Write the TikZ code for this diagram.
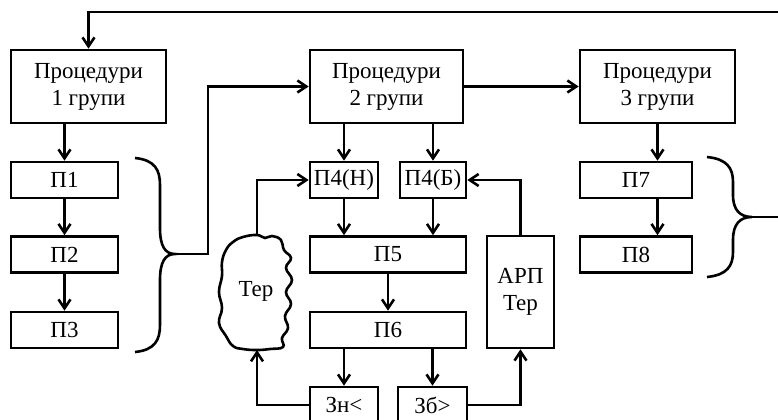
\documentclass[tikz,border=0pt]{standalone}
\usepackage{fontspec}
\setmainfont{Liberation Serif}
\usetikzlibrary{arrows.meta}
\begin{document}
\begin{tikzpicture}[x=0.5pt,y=-0.5pt,
  every node/.style={font=\fontsize{11.5}{13.5}\selectfont},
  box/.style={draw, line width=1.3pt, inner sep=0pt, align=center},
  ln/.style={line width=1.3pt},
  arr/.style={ln, -{Straight Barb[length=4.5pt,width=6pt]}}]
\useasboundingbox (0,0) rectangle (778,419);
% top-level groups
\node[box, minimum width=77.5pt, minimum height=36.5pt] (g1) at (88.5,86.5) {Процедури\\1 групи};
\node[box, minimum width=76.5pt, minimum height=36.5pt] (g2) at (386.5,86.5) {Процедури\\2 групи};
\node[box, minimum width=77.5pt, minimum height=36.5pt] (g3) at (657.5,86.5) {Процедури\\3 групи};
% group 1
\node[box, minimum width=53.5pt, minimum height=18pt] (p1) at (64.5,180) {П1};
\node[box, minimum width=53.5pt, minimum height=18pt] (p2) at (64.5,254.5) {П2};
\node[box, minimum width=53.5pt, minimum height=18pt] (p3) at (64.5,330) {П3};
% group 2
\node[box, minimum width=34pt, minimum height=18pt] (p4h) at (344,180) {П4(Н)};
\node[box, minimum width=33pt, minimum height=18pt] (p4b) at (433,180) {П4(Б)};
\node[box, minimum width=78pt, minimum height=18pt] (p5) at (388,254.5) {П5};
\node[box, minimum width=78pt, minimum height=18pt] (p6) at (388,330) {П6};
\node[box, minimum width=34pt, minimum height=18pt] (zn) at (344,405) {Зн<};
\node[box, minimum width=34.5pt, minimum height=18pt] (zb) at (432.5,405) {Зб>};
\node[box, minimum width=33.5pt, minimum height=56pt] (arp) at (520.5,292) {АРП\\Тер};
% group 3
\node[box, minimum width=56pt, minimum height=18pt] (p7) at (636,180) {П7};
\node[box, minimum width=56pt, minimum height=18pt] (p8) at (636,254.5) {П8};
% cloud
\node (ter) at (256,291) {Тер};
\coordinate (ct) at (257,235);
\coordinate (cb) at (257,350);
\draw[ln] plot[smooth cycle, tension=0.75] coordinates {
 (257,235) (265,238) (272,236) (281,240) (284,250) (291,258) (286,268) (292,280)
 (286,292) (291,304) (285,316) (288,328) (282,338) (283,347) (270,349)
 (257,350) (243,349) (233,346) (226,336) (219,323) (222,308) (219,292) (222,276)
 (222,262) (226,250) (233,242) (243,237)};
% braces
\coordinate (lb) at (175,254);
\draw[ln] (135,158) .. controls (155,160) and (160,170) .. (160,185) -- (160,228)
  .. controls (160,246) and (165,254) .. (lb)
  .. controls (165,254) and (160,262) .. (160,280) -- (160,325)
  .. controls (160,340) and (155,350) .. (135,352);
\coordinate (rb) at (752,217);
\draw[ln] (707,157) .. controls (727,159) and (733,168) .. (733,182) -- (733,195)
  .. controls (733,210) and (740,217) .. (rb)
  .. controls (740,217) and (733,224) .. (733,240) -- (733,252)
  .. controls (733,266) and (727,275) .. (707,277);
\coordinate (redge) at (778,217);
\coordinate (tedge) at (778,12);
% connectors
\draw[ln] (rb) -- (redge);
\draw[arr] (tedge) -| (g1.north);
\draw[arr] (p1.north |- g1.south) -- (p1.north);
\draw[arr] (p1.south) -- (p2.north);
\draw[arr] (p2.south) -- (p3.north);
\draw[arr] (lb) -- ++(33,0) |- (g2.west);
\draw[arr] (g2.east) -- (g3.west);
\draw[arr] (p4h.north |- g2.south) -- (p4h.north);
\draw[arr] (p4b.north |- g2.south) -- (p4b.north);
\draw[arr] (p4h.south) -- (p4h.south |- p5.north);
\draw[arr] (p4b.south) -- (p4b.south |- p5.north);
\draw[arr] (p5.south) -- (p6.north);
\draw[arr] (zn.north |- p6.south) -- (zn.north);
\draw[arr] (zb.north |- p6.south) -- (zb.north);
\draw[arr] (zn.west) -| (cb);
\draw[arr] (ct) |- (p4h.west);
\draw[arr] (zb.east) -| (arp.south);
\draw[arr] (arp.north) |- (p4b.east);
\draw[arr] (g3.south) -- (g3.south |- p7.north);
\draw[arr] (g3.south |- p7.south) -- (g3.south |- p8.north);
\end{tikzpicture}
\end{document}
